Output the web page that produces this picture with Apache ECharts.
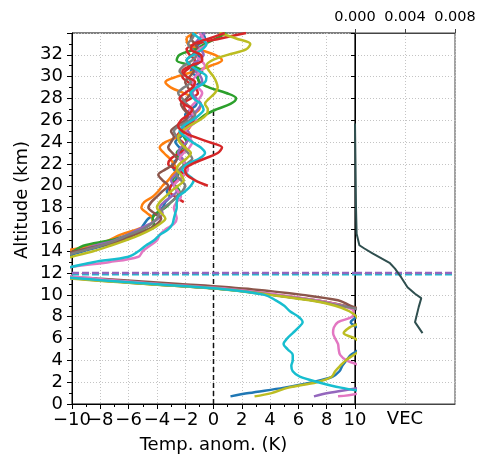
<!DOCTYPE html>
<html>
<head>
<meta charset="utf-8">
<script src="https://cdn.jsdelivr.net/npm/echarts@6/dist/echarts.min.js"></script>
<style>
html,body{margin:0;padding:0;background:#fff;}
#chart{width:487px;height:463px;}
</style>
</head>
<body>
<div id="chart"></div>
<script>
// Altitude levels (km) shared by all profiles
const alt = [0.7, 1, 1.5, 2, 2.5, 3, 3.5, 4, 4.5, 5, 5.5, 6, 6.5, 7, 7.5, 8, 8.5, 9, 9.5, 10,
  10.5, 11, 11.5, 12, 12.5, 13, 13.5, 14, 14.5, 15, 15.5, 16, 16.5, 17, 17.5, 18, 18.5, 19, 19.5, 20,
  20.5, 21, 21.5, 22, 22.5, 23, 23.5, 24, 24.5, 25, 25.5, 26, 26.5, 27, 27.5, 28, 28.5, 29, 29.5, 30,
  30.5, 31, 31.5, 32, 32.5, 33, 33.5, 34];

// Temperature anomaly profiles (K); lower part 0.7-12.5 km, upper part 13-34 km
const blueT = [1.2, 2.5, 5.0, 7.0, 8.4, 8.9, 9.1, 9.4, 9.7, 10.3, 10.5, 10.6, 10.5, 10.2, 9.7, 10.1, 10.4, 9.2, 7.2, 4.3, 1.2, -4.2, -9.3, -13, -13,
  -12, -10.6, -9.2, -7.8, -6.6, -5.7, -5.2, -4.9, -4.6, -4.0, -3.6, -3.4, -3.1, -3.3, -3.0, -2.7, -2.5, -2.8, -2.9, -2.5,
  -2.2, -2.4, -2.7, -2.3, -2.0, -1.7, -1.9, -2.0, -1.6, -1.2, -1.3, -1.6, -1.4, -1.0, -1.2, -1.6, -1.3, -0.9, -1.1, -1.4, -1.0, -0.6, -0.8];
const orangeT = [12, 12, 12, 12, 12, 12, 12, 12, 12, 12, 12, 12, 12, 12, 12, 12, 11.0, 9.3, 7.2, 4.4, 1.3, -4.0, -9.0, -13, -14,
  -13, -11.8, -10.6, -8.6, -7.4, -6.6, -5.4, -4.4, -4.3, -4.7, -5.1, -4.9, -4.3, -3.9, -3.6, -3.2, -2.9, -2.6, -2.8, -3.1,
  -3.5, -3.8, -3.4, -2.5, -1.9, -1.6, -1.5, -1.4, -1.0, -0.9, -1.3, -2.1, -3.0, -3.4, -2.6, -1.3, -0.2, 0.6, 0.1, -1.0, -1.8, -1.9, -1.2];
const greenT = [12, 12, 12, 12, 12, 12, 12, 12, 12, 12, 12, 12, 12, 12, 12, 12, 10.9, 9.1, 7.0, 4.2, 1.0, -4.4, -9.4, -13, -13,
  -12, -10.5, -9.9, -9.2, -7.3, -6.0, -4.6, -4.2, -4.3, -4.0, -3.4, -3.0, -2.6, -2.4, -2.7, -2.9, -2.6, -2.3, -2.1, -2.4,
  -2.6, -2.2, -1.9, -2.1, -2.3, -1.8, -1.1, -0.6, 0.2, 1.2, 1.6, 0.9, -0.3, -1.0, -1.1, -0.8, -1.5, -2.6, -2.4, -1.3, -0.6, 0.2, 0.9];
const redT = [null, null, null, null, null, null, null, null, null, null, null, null, null, null, null, null, null, null, null, null, null, null, null, null, null,
  null, null, null, null, null, null, null, null, null, null, null, -2.1, -2.7, -3.1, -3.0, -2.5, -2.1, -2.6, -3.2, -3.0,
  -2.4, -2.0, -2.2, -2.6, -2.3, -1.9, -1.4, -1.6, -2.0, -2.1, -1.6, -1.1, -1.3, -1.8, -2.2, -2.0, -1.5, -1.3, -1.7, -1.9, -1.2, 0.5, 2.3];
const purpleT = [7.1, 8.1, 10.4, 12, 12, 12, 12, 12, 12, 12, 12, 12, 12, 12, 12, 12, 10.7, 9.2, 7.1, 4.2, 1.1, -4.3, -9.6, -13, -13,
  -12, -10.8, -9.6, -8.4, -7.0, -6.1, -5.3, -4.5, -3.9, -3.6, -3.8, -3.5, -3.0, -2.6, -2.8, -3.0, -2.7, -2.3, -2.0, -2.2,
  -2.5, -2.3, -1.9, -1.6, -1.8, -2.2, -2.0, -1.5, -1.1, -0.9, -1.2, -1.5, -1.2, -0.8, -0.9, -1.3, -1.5, -1.1, -0.7, -0.9, -1.3, -1.0, -0.6];
const brownT = [12, 12, 12, 12, 12, 12, 12, 12, 12, 12, 12, 12, 12, 12, 12, 12, 10.8, 9.7, 8.8, 6.3, 2.8, -2.4, -8.2, -13, -13,
  -12.5, -11.2, -9.8, -8.0, -6.5, -5.6, -4.6, -4.0, -3.7, -4.2, -4.6, -4.4, -4.0, -3.6, -3.2, -3.6, -3.9, -3.4, -2.8, -2.6,
  -2.9, -3.2, -3.0, -2.8, -3.0, -2.6, -2.0, -1.8, -2.1, -2.3, -1.9, -1.6, -1.8, -2.0, -1.7, -1.4, -1.6, -1.9, -1.5, -1.1, -1.3, -1.6, -1.4];
const pinkT = [8.8, 10.3, 11, 11, 11, 11, 10.4, 9.4, 8.95, 8.85, 8.8, 8.6, 8.45, 8.5, 8.8, 9.8, 9.9, 9.0, 7.3, 4.6, 1.4, -3.8, -8.4, -11, -10.3,
  -7.4, -5.3, -5.0, -4.5, -4.0, -3.8, -3.4, -2.8, -2.6, -2.7, -2.8, -2.6, -2.3, -2.5, -2.8, -2.5, -2.1, -1.8, -2.0, -2.4,
  -2.1, -1.7, -1.5, -1.8, -2.0, -1.6, -1.2, -1.4, -1.7, -1.4, -1.0, -0.8, -1.1, -1.5, -1.3, -0.9, -0.6, -0.9, -1.3, -1.0, -0.5, -0.7, -1.0];
const grayT = [12, 12, 12, 12, 12, 12, 12, 12, 12, 12, 12, 12, 12, 12, 12, 12, 10.9, 9.0, 7.0, 4.1, 1.0, -4.6, -9.7, -13, -13,
  -12.5, -10.9, -9.4, -8.0, -6.9, -6.0, -5.0, -4.4, -4.0, -3.8, -3.5, -3.0, -2.6, -2.2, -2.0, -2.3, -2.6, -2.4, -1.9, -1.5,
  -1.8, -2.1, -2.3, -2.6, -2.8, -2.4, -1.7, -1.3, -1.5, -1.9, -2.2, -2.5, -2.1, -1.6, -1.9, -2.4, -2.1, -1.5, -1.2, -1.5, -1.8, -1.5, -1.3];
const oliveT = [2.9, 4.1, 5.3, 7.3, 8.35, 8.6, 8.95, 9.35, 9.9, 10.4, 10.4, 10.0, 9.2, 9.6, 10.3, 10.1, 9.6, 8.6, 6.8, 4.0, 0.8, -4.8, -10.2, -13, -13,
  -11.5, -10.0, -8.5, -7.3, -6.2, -5.2, -4.4, -3.8, -3.4, -3.7, -4.0, -3.8, -3.4, -3.0, -2.5, -2.1, -2.3, -2.6, -2.4, -1.9,
  -1.6, -2.0, -2.4, -2.5, -2.2, -1.7, -1.0, -0.5, -0.4, -0.6, -0.3, 0.1, 0.3, 0.2, 0.0, -0.3, -0.5, -0.1, 1.0, 2.3, 2.6, 1.6, 0.4];
const cyanT = [12, 11.2, 9.0, 7.4, 6.1, 5.6, 5.5, 5.6, 5.6, 5.25, 4.95, 5.2, 5.6, 6.0, 6.3, 6.0, 5.4, 5.0, 4.4, 3.6, 0.9, -4.3, -9.4, -13, -10.3,
  -8.5, -6.0, -5.3, -4.8, -4.2, -3.8, -3.2, -2.9, -2.8, -2.7, -2.6, -2.6, -2.5, -2.0, -1.6, -1.4, -1.8, -2.2, -1.8, -1.0,
  -0.6, -0.9, -1.5, -2.0, -2.4, -2.1, -1.5, -1.0, -0.7, -0.9, -1.4, -1.6, -1.2, -0.6, -0.5, -1.0, -1.6, -1.9, -1.4, -0.8, -0.5, -1.0, -1.5];
const red2T = [null, null, null, null, null, null, null, null, null, null, null, null, null, null, null, null, null, null, null, null, null, null, null, null, null,
  null, null, null, null, null, null, null, null, null, null, null, null, null, null, -0.4, -1.3, -1.9, -2.0, -1.5, -0.6,
  0.3, 0.6, -0.3, -1.4, -2.2, -2.5, -2.3, -1.8, -1.5, -2.1, -2.4, -2.0, -1.5, -1.3, -1.9, -2.2, -1.6, -0.8, -0.9, -1.6, -1.4, -0.3, 0.8];

// Tropopause heights (km) for the dashed markers
const tropoPurple = 12.0;
const tropoCyan = 11.88;
// Top of the zero reference line (km)
const zeroTop = 26.8;

// VEC profile
const vecAlt = [25.7, 22.0, 18.0, 15.6, 14.55, 14.25, 13.8, 12.9, 12.4, 11.6, 10.7, 10.1, 9.7, 8.9, 7.5, 6.5];
const vecVal = [0.0, 0.00004, 0.00008, 0.00013, 0.00035, 0.00075, 0.0014, 0.0028, 0.0032, 0.0037, 0.0042, 0.0048, 0.0053, 0.0051, 0.0048, 0.0054];

const profiles = [
  {v: blueT, c: '#1f77b4'}, {v: orangeT, c: '#ff7f0e'}, {v: greenT, c: '#2ca02c'}, {v: redT, c: '#d62728'},
  {v: purpleT, c: '#9467bd'}, {v: brownT, c: '#8c564b'}, {v: pinkT, c: '#e377c2'}, {v: grayT, c: '#7f7f7f'},
  {v: oliveT, c: '#bcbd22'}, {v: cyanT, c: '#17becf'}, {v: red2T, c: '#d62728'}
];

const FONT = 'DejaVu Sans';
const gridLine = {show: true, lineStyle: {type: [1, 2], color: '#c4c4c4', width: 1}};
const minus = v => String(v).replace('-', '\u2212');

const series = [];
series.push({
  type: 'line', xAxisIndex: 0, yAxisIndex: 0, data: [[0, 0], [0, zeroTop]], symbol: 'none',
  lineStyle: {color: '#111', width: 1.5, type: [5, 3]}, silent: true
});
profiles.forEach(p => {
  const d = [];
  alt.forEach((a, i) => { if (p.v[i] !== null && p.v[i] !== undefined) d.push([p.v[i], a]); });
  series.push({
    type: 'line', xAxisIndex: 0, yAxisIndex: 0, data: d, symbol: 'none', smooth: 0.35, clip: true,
    lineStyle: {color: p.c, width: 2.5}, silent: true
  });
});
[[tropoCyan, '#17becf'], [tropoPurple, '#9467bd']].forEach(([t, c]) => {
  series.push({type: 'line', xAxisIndex: 0, yAxisIndex: 0, data: [[-10, t], [10, t]], symbol: 'none',
    lineStyle: {color: c, width: 2.5, type: [7, 3]}, silent: true});
  series.push({type: 'line', xAxisIndex: 1, yAxisIndex: 1, data: [[0, t], [0.008, t]], symbol: 'none',
    lineStyle: {color: c, width: 2.5, type: [7, 3]}, silent: true});
});
series.push({
  type: 'line', xAxisIndex: 1, yAxisIndex: 1, data: vecAlt.map((a, i) => [vecVal[i], a]), symbol: 'none',
  lineStyle: {color: '#2f4f4f', width: 2}, silent: true
});

const chart = echarts.init(document.getElementById('chart'), null, {renderer: 'canvas'});
chart.setOption({
  animation: false,
  backgroundColor: '#fff',
  textStyle: {fontFamily: FONT},
  grid: [
    {left: 72, top: 33, width: 283, height: 371, show: true, borderColor: '#000', borderWidth: 1, backgroundColor: 'transparent'},
    {left: 355, top: 33, width: 100, height: 371, show: true, borderColor: '#444', borderWidth: 1, backgroundColor: 'transparent'}
  ],
  xAxis: [
    {
      gridIndex: 0, type: 'value', min: -10, max: 10, interval: 2, position: 'bottom',
      axisLine: {show: true, onZero: false, lineStyle: {color: '#000', width: 1}},
      axisTick: {show: true, length: 5, lineStyle: {color: '#000'}},
      minorTick: {show: true, splitNumber: 2, length: 3, lineStyle: {color: '#000'}},
      axisLabel: {fontSize: 18, color: '#000', margin: 7, fontFamily: FONT, showMinLabel: false, showMaxLabel: true,
        formatter: minus},
      splitLine: gridLine,
      name: 'Temp. anom. (K)', nameLocation: 'middle', nameGap: 32,
      nameTextStyle: {fontSize: 18, color: '#000', fontFamily: FONT}
    },
    {
      gridIndex: 1, type: 'value', min: 0, max: 0.008, interval: 0.004, position: 'top',
      axisLine: {show: true, onZero: false, lineStyle: {color: '#444'}},
      axisTick: {show: true, length: 4, lineStyle: {color: '#444'}},
      axisLabel: {fontSize: 14.5, color: '#000', margin: 8, fontFamily: FONT, showMinLabel: true, showMaxLabel: true,
        formatter: v => v.toFixed(3)},
      splitLine: gridLine
    },
    {
      gridIndex: 1, type: 'value', min: 0, max: 0.008, position: 'bottom',
      axisLine: {show: true, onZero: false, lineStyle: {color: '#444'}},
      axisTick: {show: false}, axisLabel: {show: false}, splitLine: {show: false},
      name: 'VEC', nameLocation: 'middle', nameGap: 6,
      nameTextStyle: {fontSize: 18, color: '#000', fontFamily: FONT}
    },
    {
      // carries only the leftmost tick label of the temperature axis
      gridIndex: 0, type: 'value', min: -10, max: 10, interval: 20, position: 'bottom',
      axisLine: {show: false}, axisTick: {show: false}, splitLine: {show: false},
      axisLabel: {fontSize: 18, color: '#000', margin: 7, fontFamily: FONT, showMinLabel: true, showMaxLabel: false,
        formatter: v => (v === -10 ? minus(v) : '')}
    }
  ],
  yAxis: [
    {
      gridIndex: 0, type: 'value', min: 0, max: 34, interval: 2,
      axisLine: {show: true, onZero: false, lineStyle: {color: '#000'}},
      axisTick: {show: true, length: 5, lineStyle: {color: '#000'}},
      minorTick: {show: true, splitNumber: 2, length: 3, lineStyle: {color: '#000'}},
      axisLabel: {fontSize: 18, color: '#000', margin: 9, fontFamily: FONT, showMinLabel: true, showMaxLabel: false},
      splitLine: gridLine
    },
    {
      gridIndex: 1, type: 'value', min: 0, max: 34, interval: 2,
      axisLine: {show: true, onZero: false, lineStyle: {color: '#000'}},
      axisTick: {show: true, length: 4, lineStyle: {color: '#000'}},
      axisLabel: {show: false},
      splitLine: gridLine
    }
  ],
  graphic: [{
    type: 'text', x: 22, y: 200, rotation: Math.PI / 2,
    style: {text: 'Altitude (km)', fontSize: 18, fontFamily: FONT, fill: '#000', align: 'center', verticalAlign: 'middle'}
  }],
  series: series
});
</script>
</body>
</html>
